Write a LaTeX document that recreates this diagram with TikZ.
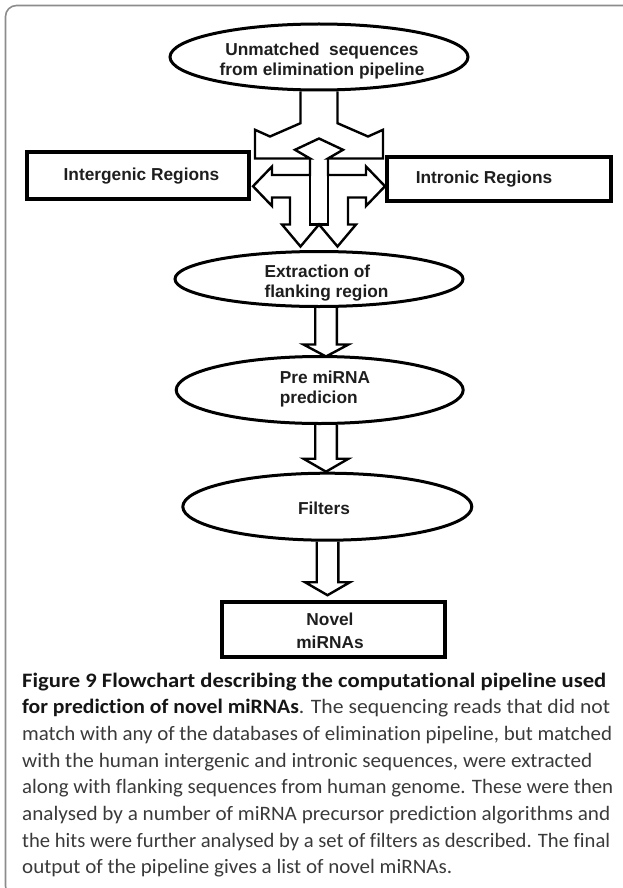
\documentclass[tikz,border=0pt]{standalone}
\usepackage{fontspec}
\usepackage{graphicx}
\setmainfont{Liberation Sans}
\newfontfamily\capfont[Ligatures=NoCommon]{Carlito}
\usetikzlibrary{shapes.geometric,calc}
\definecolor{framecol}{HTML}{8C8C8C}
\definecolor{captxt}{HTML}{3A3A3A}
\definecolor{capbold}{HTML}{151515}
\definecolor{diagtxt}{HTML}{1E1E1E}
\tikzset{
  oval/.style={ellipse, draw=black, line width=3pt, inner sep=0pt},
  boxnode/.style={rectangle, draw=black, line width=4.2pt, inner sep=0pt},
  lbl/.style={text=diagtxt, font=\fontsize{17.3}{20}\selectfont\bfseries, inner sep=0pt},
  blk/.style={draw=black, line width=2.4pt, line join=miter},
  capline/.style={anchor=base west, inner sep=0pt, text=captxt, font=\capfont\fontsize{20.5}{25}\selectfont},
}
\newcommand{\capl}[2]{\resizebox{#1pt}{\height}{#2}}
\begin{document}
\begin{tikzpicture}[x=1pt,y=-1pt]
\useasboundingbox (0,0) rectangle (623,888);
\begin{scope}
\clip (0,0) rectangle (623,888);
\draw[framecol, line width=1.6pt, rounded corners=11pt] (630,5.5) -- (5.5,5.5) -- (5.5,897) -- (40,897);
\end{scope}

% shapes
\node[oval, minimum width=298pt, minimum height=66pt] (top) at (319,57) {};
\node[oval, minimum width=288pt, minimum height=55pt] (ext) at (319,279) {};
\node[oval, minimum width=287pt, minimum height=67pt] (pre) at (319.7,390) {};
\node[oval, minimum width=289pt, minimum height=67pt] (fil) at (327.3,506.7) {};
\node[boxnode, minimum width=222pt, minimum height=47pt] (inter) at (138,175.5) {};
\node[boxnode, minimum width=224pt, minimum height=44pt] (intro) at (499,179) {};
\node[boxnode, line width=3.6pt, minimum width=223pt, minimum height=55pt] (novel) at (333.5,629.5) {};

% labels
\node[lbl, align=center] (ttop) at (322,61) {Unmatched\ \ sequences\\from elimination pipeline};
\node[lbl, align=left] (text) at (326.5,283.5) {Extraction of\\flanking region};
\node[lbl, align=left] (tpre) at (325,389) {Pre miRNA\\predicion};
\node[lbl] (tfil) at (324,508) {Filters};
\node[lbl] (tinter) at (141.5,176) {Intergenic Regions};
\node[lbl] (tintro) at (484,179) {Intronic Regions};
\node[lbl, align=center] (tnovel) at (330,630.5) {Novel\\[3pt] miRNAs};

% split arrow from the top ellipse
\begin{scope}[shift={(top.south)}]
\draw[blk] (-18.5,0) -- (-18.5,31.7) -- (-49,45) -- (-64,38.3) -- (-64,67) -- (-9,67)
  -- (-24,58.3) -- (0,47) -- (24,58.3) -- (9,67) -- (64,67) -- (64,38.3) -- (49,45)
  -- (18.5,31.7) -- (18.5,0);
\draw[blk] (-9,67) -- (-9,83.5) -- (-47,83.5) -- (-47,75) -- (-66,94.75) -- (-47,114.5)
  -- (-47,106) -- (-29,106) -- (-29,133) -- (-37,133) -- (-18.5,155) -- (0,133)
  -- (18.5,155) -- (37,133) -- (29,133) -- (29,106) -- (47,106) -- (47,114.5)
  -- (66,94.75) -- (47,75) -- (47,83.5) -- (9,83.5) -- (9,67);
\draw[blk] (-9,83.5) -- (-9,133) -- (9,133) -- (9,83.5);
\end{scope}

% vertical block arrows
\draw[blk] let \p1=($(ext.south)+(7,0)$), \p2=($(pre.north)+(7,1.5)$) in
  (\x1-10.8pt,\y1) -- (\x1-10.8pt,\y2+12pt) -- (\x1-22.5pt,\y2+12pt) -- (\x1,\y2)
  -- (\x1+22.5pt,\y2+12pt) -- (\x1+10.8pt,\y2+12pt) -- (\x1+10.8pt,\y1);
\draw[blk] let \p1=($(pre.south)+(6.3,0)$), \p2=($(fil.north)+(-1,0)$) in
  (\x1-10.8pt,\y1) -- (\x1-10.8pt,\y2+13pt) -- (\x1-22.5pt,\y2+13pt) -- (\x1,\y2)
  -- (\x1+22.5pt,\y2+13pt) -- (\x1+10.8pt,\y2+13pt) -- (\x1+10.8pt,\y1);
\draw[blk] let \p1=($(fil.south)+(0.2,0)$), \p2=($(novel.north)+(-6,-5)$) in
  (\x1-10.8pt,\y1) -- (\x1-10.8pt,\y2+13pt) -- (\x1-22.5pt,\y2+13pt) -- (\x1,\y2)
  -- (\x1+22.5pt,\y2+13pt) -- (\x1+10.8pt,\y2+13pt) -- (\x1+10.8pt,\y1);

% caption
\node[capline] (c1) at (22,687) {\capl{584}{\color{capbold}\bfseries Figure 9 Flowchart describing the computational pipeline used}};
\node[capline] (c2) at (22,713.7) {\capl{588}{{\color{capbold}\bfseries for prediction of novel miRNAs}. The sequencing reads that did not}};
\node[capline] (c3) at (22,740.4) {\capl{590}{match with any of the databases of elimination pipeline, but matched}};
\node[capline] (c4) at (22,767.1) {\capl{570}{with the human intergenic and intronic sequences, were extracted}};
\node[capline] (c5) at (22,793.8) {\capl{591}{along with flanking sequences from human genome. These were then}};
\node[capline] (c6) at (22,820.5) {\capl{588}{analysed by a number of miRNA precursor prediction algorithms and}};
\node[capline] (c7) at (22,847.2) {\capl{588}{the hits were further analysed by a set of filters as described. The final}};
\node[capline] (c8) at (22,873.9) {\capl{430}{output of the pipeline gives a list of novel miRNAs.}};
\end{tikzpicture}
\end{document}
